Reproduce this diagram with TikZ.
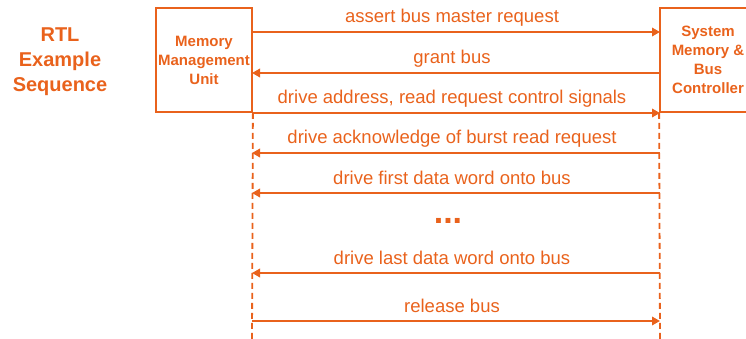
\documentclass[tikz,border=0pt]{standalone}
\usepackage{fontspec}
\setmainfont{Liberation Sans}
\usetikzlibrary{arrows.meta}
\definecolor{rtlorange}{RGB}{233,98,28}

\begin{document}
\begin{tikzpicture}[x=1pt,y=-1pt]
\tikzstyle{every node}=[text=rtlorange]
\tikzstyle{unit}=[draw=rtlorange,line width=1.8pt,minimum width=96pt,minimum height=104pt,inner sep=0pt,align=center,font=\fontsize{15}{19}\selectfont\bfseries]
\tikzstyle{lifeline}=[draw=rtlorange,line width=1.8pt,dash pattern=on 6pt off 4pt]
\tikzstyle{msg}=[draw=rtlorange,line width=1.8pt,-{Triangle[length=8pt,width=8.5pt]}]
\tikzstyle{msglabel}=[midway,anchor=base,yshift=9pt,xshift=-4pt,font=\fontsize{18.5}{22}\selectfont]
\useasboundingbox (0,0) rectangle (746,339);

% heading
\node[align=center,font=\fontsize{20}{25}\selectfont\bfseries] (title) at (60,62) {RTL\\Example\\Sequence};

% the two parties and their lifelines
\node[unit] (mmu) at (204,60) {Memory\\Management\\Unit};
\node[unit] (smbc) at (708,60) {System\\Memory \&\\Bus\\Controller};
\coordinate (mmuend) at (252,339);
\coordinate (smbcend) at (660,339);
\draw[lifeline] (mmu.south east) -- (mmuend);
\draw[lifeline] (smbc.south west) -- (smbcend);

% message ends on the lifelines
\foreach \n/\y in {1/32,2/73,3/113,4/153,5/193,7/273,8/321}{
  \coordinate (l\n) at (252,\y);
  \coordinate (r\n) at (660,\y);
}

\draw[msg] (l1) -- (r1) node[msglabel]{assert bus master request};
\draw[msg] (r2) -- (l2) node[msglabel]{grant bus};
\draw[msg] (l3) -- (r3) node[msglabel]{drive address, read request control signals};
\draw[msg] (r4) -- (l4) node[msglabel]{drive acknowledge of burst read request};
\draw[msg] (r5) -- (l5) node[msglabel]{drive first data word onto bus};
\node[anchor=base,font=\fontsize{34}{34}\selectfont\bfseries] (dots) at (448,223) {...};
\draw[msg] (r7) -- (l7) node[msglabel]{drive last data word onto bus};
\draw[msg] (l8) -- (r8) node[msglabel]{release bus};
\end{tikzpicture}
\end{document}
